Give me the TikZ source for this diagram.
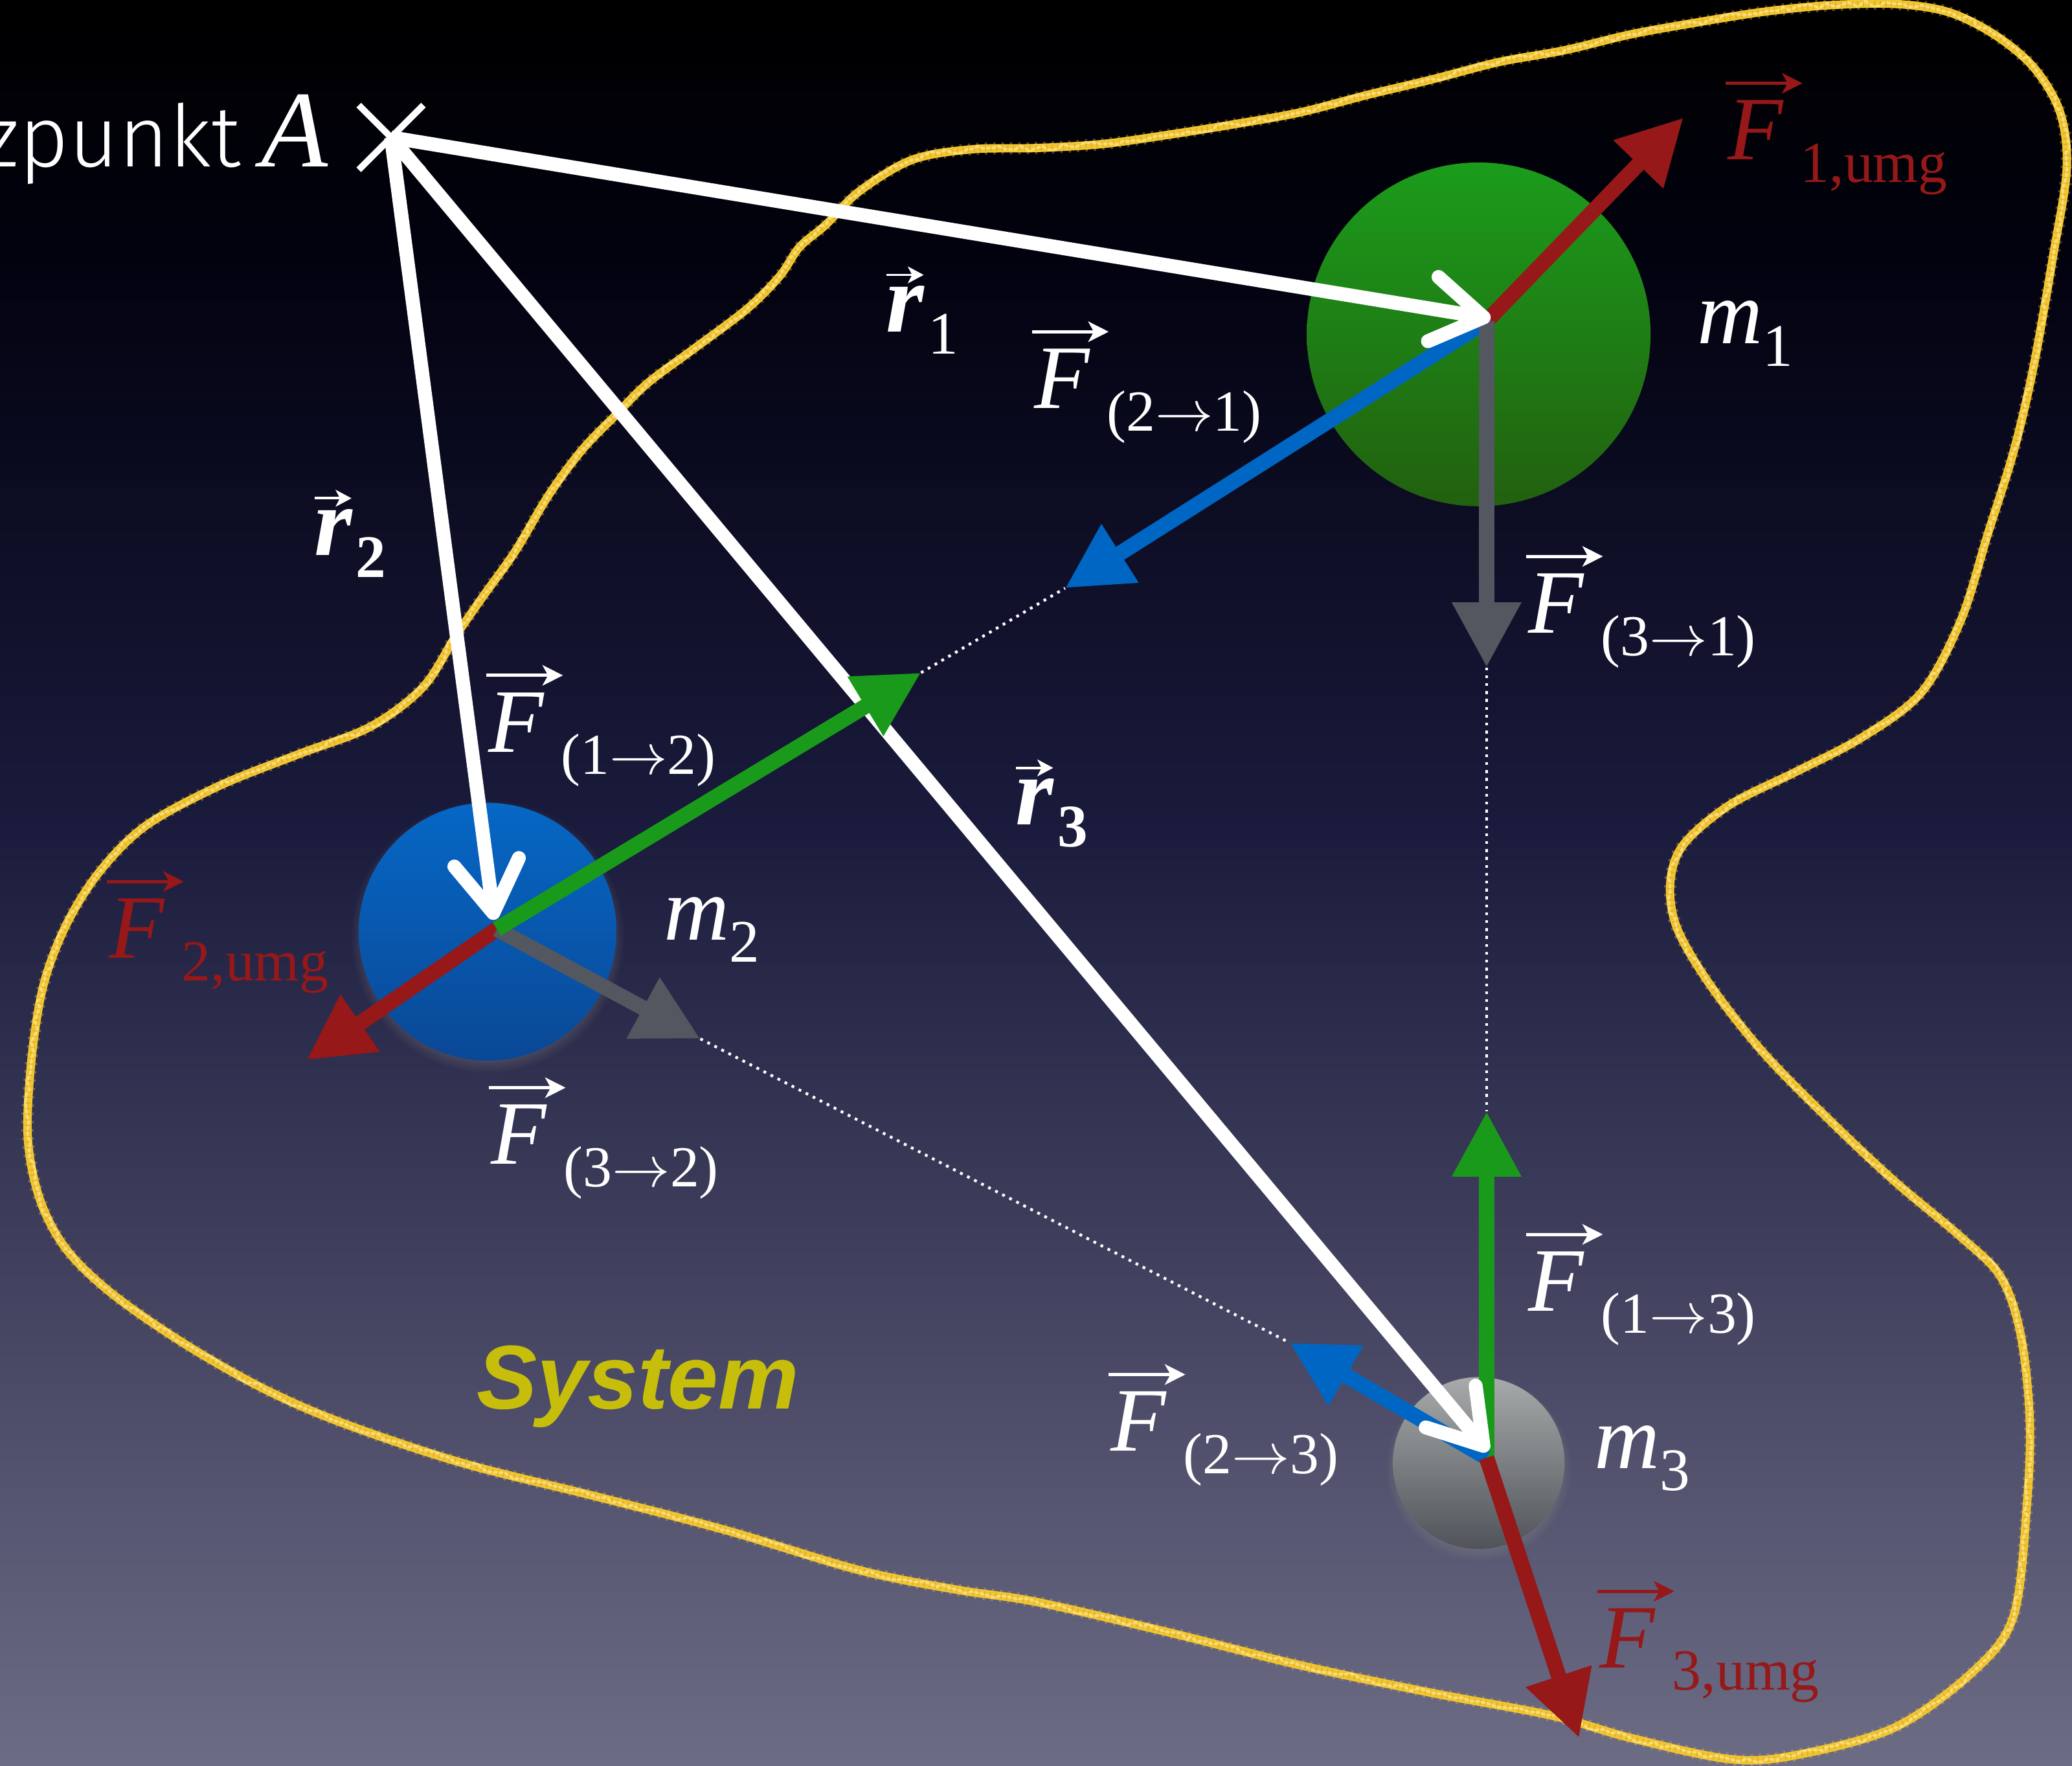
\documentclass[tikz,border=0pt]{standalone}
\usepackage{fix-cm}
\usepackage{fontspec}
\setmainfont{Liberation Serif}
\newfontfamily\hsans{Liberation Sans}
\newfontfamily\lsans{Fira Sans Light}
\usetikzlibrary{arrows.meta,shapes.misc,shadows,decorations.pathmorphing}
\definecolor{fred}{HTML}{961818}
\definecolor{fblue}{HTML}{0066C4}
\definecolor{fgreen}{HTML}{1A9A1A}
\definecolor{fgrey}{HTML}{535760}
\definecolor{chalk}{HTML}{F2C532}
\definecolor{chalklight}{HTML}{FFE685}
\definecolor{chalkdark}{HTML}{C99A18}
\definecolor{systext}{HTML}{C6BE0A}
\definecolor{bgA}{HTML}{000000}
\definecolor{bgB}{HTML}{020210}
\definecolor{bgC}{HTML}{1A1A3C}
\definecolor{bgD}{HTML}{6C6C85}
\definecolor{gtop}{HTML}{1B9C1B}
\definecolor{gbot}{HTML}{22600F}
\definecolor{btop}{HTML}{0667C5}
\definecolor{bbot}{HTML}{0A4896}
\definecolor{stop}{HTML}{A6AAAA}
\definecolor{sbot}{HTML}{50545A}
\newcommand\ra{\ensuremath{\rightarrow}}
\newcommand\Fv[1]{{\itshape F}\kern3.7pt\raisebox{-4.8pt}{\fontsize{12.5}{13}\selectfont #1}}
\newcommand\rv[1]{{\bfseries\itshape r}\kern0.8pt\raisebox{-4.8pt}{\fontsize{13}{13}\selectfont #1}}
\newcommand\mv[1]{{\itshape m}\raisebox{-4.8pt}{\fontsize{13}{13}\selectfont #1}}
\begin{document}
\begin{tikzpicture}[x=0.01cm,y=-0.01cm,
  mass/.style={circle, inner sep=0pt, draw=none},
  force/.style={line width=3.3pt, -{Triangle[length=14pt,width=14pt]}},
  wvec/.style={draw=white, line width=3pt, -{Straight Barb[length=11pt,width=14pt,round]}},
  dotl/.style={draw=white, line width=0.6pt, dash pattern=on 0.6pt off 1.1pt},
  ovar/.style={line width=0.7pt, -{Stealth[length=4.4pt,width=4.4pt,inset=1.2pt]}},
  rvar/.style={draw=white, line width=0.55pt, -{Stealth[length=3.4pt,width=3.6pt,inset=0.9pt]}},
  lab/.style={anchor=base west, inner sep=0pt, text=white, font=\fontsize{19.5}{20}\selectfont},
  rlab/.style={anchor=base west, inner sep=0pt, text=white, font=\fontsize{21}{22}\selectfont},
  chalkline/.style={draw=chalk, line width=1.8pt, line join=round,
    postaction={draw=chalk, line width=2.6pt, opacity=0.35, dash pattern=on 0.5pt off 1.3pt},
    postaction={draw=chalklight, line width=0.5pt, opacity=0.8, decorate,
      decoration={random steps, segment length=1.5pt, amplitude=0.6pt}},
    postaction={draw=chalkdark, line width=1.1pt, opacity=0.45, dash pattern=on 0.3pt off 0.9pt}}
]
\clip (0,0) rectangle (1568,1336);
% background
\shade[top color=bgA, bottom color=bgB] (0,0) rectangle (1568,202);
\shade[top color=bgB, bottom color=bgC] (0,200) rectangle (1568,622);
\shade[top color=bgC, bottom color=bgD] (0,620) rectangle (1568,1336);
% system boundary
\pgfmathsetseed{7}
\draw[chalkline] plot[smooth cycle, tension=0.55] coordinates {
 (590,209) (605,187) (625,170) (650,145) (690,121) (735,113) (784,112) (834,109)
 (884,102) (934,94) (984,85) (1034,72) (1084,60) (1134,47) (1184,38) (1234,26)
 (1284,17) (1334,9) (1384,4) (1434,3) (1474,9) (1509,26) (1539,51) (1559,85)
 (1564,128) (1554,192) (1539,277) (1524,341) (1504,405) (1484,469) (1454,524)
 (1409,558) (1359,584) (1309,609) (1274,639) (1264,668) (1269,702) (1294,745)
 (1334,796) (1384,847) (1434,894) (1484,936) (1514,966) (1529,1009) (1536,1073)
 (1534,1137) (1524,1222) (1494,1264) (1434,1307) (1359,1328) (1309,1331)
 (1234,1315) (1174,1298) (1084,1281) (984,1260) (884,1235) (784,1212) (725,1203)
 (650,1188) (550,1158) (450,1132) (350,1107) (260,1077) (200,1051) (140,1017)
 (85,979) (50,945) (30,907) (21,860) (24,800) (33,745) (50,700) (75,660)
 (110,625) (165,595) (225,571) (280,550) (320,520) (345,481) (365,452) (390,417)
 (415,375) (440,341) (465,315) (490,290) (525,264) (565,234)};
% points
\coordinate (P1) at (1125,243);
\coordinate (P2) at (376,703);
\coordinate (P3) at (1125,1103);
\coordinate (R1) at (1128,241);
\coordinate (R2) at (374,696);
\coordinate (R3) at (1126,1098);
\coordinate (F1ut) at (1274,89);
\coordinate (F21t) at (806,445);
\coordinate (F31t) at (1125,505);
\coordinate (F12t) at (697,509);
\coordinate (F2ut) at (232,802);
\coordinate (F32t) at (530,786);
\coordinate (F13t) at (1125,841);
\coordinate (F23t) at (976,1016);
\coordinate (F3ut) at (1195,1315);
% dotted lines of action
\draw[dotl] (F12t) -- (F21t);
\draw[dotl] (F32t) -- (F23t);
\draw[dotl] (F31t) -- (F13t);
% masses
\node[mass, minimum size=2.6cm, top color=gtop, bottom color=gbot] (M1) at (1119,253) {};
\node[mass, minimum size=1.95cm, top color=btop, bottom color=bbot,
  circular drop shadow={shadow xshift=0pt, shadow yshift=-1pt, shadow scale=1.06, opacity=.45}] (M2) at (369,705) {};
\node[mass, minimum size=1.3cm, top color=stop, bottom color=sbot,
  circular drop shadow={shadow xshift=0pt, shadow yshift=-1pt, shadow scale=1.08, opacity=.45}] (M3) at (1119,1107) {};
% forces
\draw[force, fred] (P1) -- (F1ut);
\draw[force, fblue] (P1) -- (F21t);
\draw[force, fgrey] (P1) -- (F31t);
\draw[force, fred] (P2) -- (F2ut);
\draw[force, fgrey] (P2) -- (F32t);
\draw[force, fgreen] (P3) -- (F13t);
\draw[force, fblue] (P3) -- (F23t);
\draw[force, fred] (P3) -- (F3ut);
% reference point and position vectors
\node[cross out, draw=white, line width=1.4pt, minimum size=0.44cm, inner sep=0pt] (A) at (296,104) {};
\draw[wvec] (A.center) -- (R1);
\draw[wvec] (A.center) -- (R2);
\draw[wvec] (A.center) -- (R3);
\draw[force, fgreen] (P2) -- (F12t);
% labels
\node[anchor=base east, inner sep=0pt, text=white] (ref) at (249,126)
  {{\lsans\fontsize{18.5}{19}\selectfont zpunkt}\hspace{4.5pt}{\fontsize{23.5}{24}\selectfont\itshape A}};
\node[rlab] (lr1) at (670,251) {\rv{1}};
\node[rlab] (lr2) at (237,420) {\rv{\bfseries 2}};
\node[rlab] (lr3) at (768,624) {\rv{\bfseries 3}};
\node[lab] (lF21) at (782,309) {\Fv{(2\ra1)}};
\node[lab] (lF31) at (1156,479) {\Fv{(3\ra1)}};
\node[lab] (lF12) at (369,569) {\Fv{(1\ra2)}};
\node[lab] (lF32) at (371,881) {\Fv{(3\ra2)}};
\node[lab] (lF13) at (1156,992) {\Fv{(1\ra3)}};
\node[lab] (lF23) at (840,1098) {\Fv{(2\ra3)}};
\node[lab, text=fred] (lF1u) at (1307,121) {\Fv{1,umg}};
\node[lab, text=fred] (lF2u) at (82,725) {\Fv{2,umg}};
\node[lab, text=fred] (lF3u) at (1210,1262) {\Fv{3,umg}};
\node[lab] (lm1) at (1284,260) {\mv{1}};
\node[lab] (lm2) at (502,711) {\mv{2}};
\node[lab] (lm3) at (1206,1111) {\mv{3}};
\node[anchor=base west, inner sep=0pt, text=systext, font=\hsans\bfseries\itshape\fontsize{19.5}{20}\selectfont] (sys) at (360,1066) {System};
% vector arrows over the symbols
\foreach \n in {lF21,lF31,lF12,lF32,lF13,lF23}
  \draw[ovar, white] ([shift={(-1,-58)}]\n.base west) -- ++(58,0);
\foreach \n in {lF1u,lF2u,lF3u}
  \draw[ovar, fred] ([shift={(-1,-58)}]\n.base west) -- ++(58,0);
\foreach \n in {lr1,lr2,lr3}
  \draw[rvar] ([shift={(1,-43)}]\n.base west) -- ++(28,0);
\end{tikzpicture}
\end{document}
